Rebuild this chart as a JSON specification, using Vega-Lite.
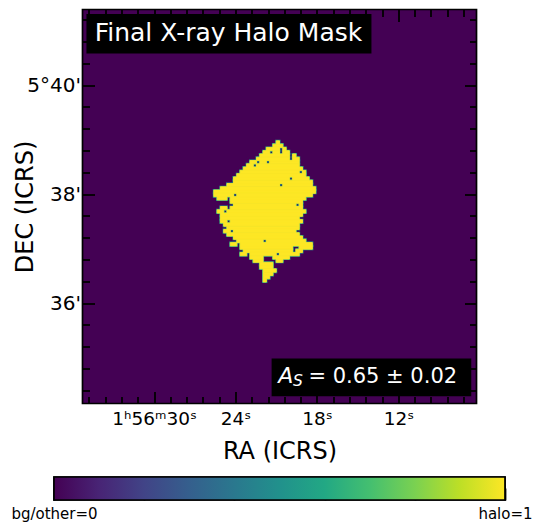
{
  "$schema": "https://vega.github.io/schema/vega-lite/v6.json",
  "background": "white",
  "padding": {"left": 10, "top": 7.5, "right": 0, "bottom": 0},
  "bounds": "flush",
  "center": true,
  "spacing": 73.5,
  "config": {
    "font": "DejaVu Sans",
    "view": {"stroke": "black", "strokeWidth": 1.7},
    "axis": {"domain": false, "grid": false, "labelFlush": false, "labelOverlap": false, "tickColor": "black", "tickWidth": 1.8, "labelColor": "black", "titleColor": "black", "labelFont": "DejaVu Sans", "titleFont": "DejaVu Sans", "titleFontWeight": "normal"}
  },
  "datasets": {
    "mask": [
      {"r0": 40, "r1": 41, "c1": 59, "c2": 60},
      {"r0": 41, "r1": 42, "c1": 58, "c2": 61},
      {"r0": 42, "r1": 43, "c1": 56, "c2": 60},
      {"r0": 42, "r1": 43, "c1": 61, "c2": 62},
      {"r0": 43, "r1": 44, "c1": 55, "c2": 57},
      {"r0": 43, "r1": 44, "c1": 58, "c2": 60},
      {"r0": 43, "r1": 44, "c1": 61, "c2": 63},
      {"r0": 44, "r1": 45, "c1": 54, "c2": 63},
      {"r0": 44, "r1": 45, "c1": 64, "c2": 65},
      {"r0": 45, "r1": 46, "c1": 53, "c2": 63},
      {"r0": 45, "r1": 46, "c1": 64, "c2": 66},
      {"r0": 46, "r1": 47, "c1": 51, "c2": 53},
      {"r0": 46, "r1": 47, "c1": 54, "c2": 56},
      {"r0": 46, "r1": 47, "c1": 57, "c2": 66},
      {"r0": 47, "r1": 48, "c1": 50, "c2": 52},
      {"r0": 47, "r1": 48, "c1": 53, "c2": 66},
      {"r0": 48, "r1": 49, "c1": 49, "c2": 67},
      {"r0": 49, "r1": 50, "c1": 48, "c2": 66},
      {"r0": 49, "r1": 50, "c1": 67, "c2": 68},
      {"r0": 50, "r1": 51, "c1": 47, "c2": 68},
      {"r0": 51, "r1": 52, "c1": 46, "c2": 63},
      {"r0": 51, "r1": 52, "c1": 64, "c2": 69},
      {"r0": 52, "r1": 53, "c1": 46, "c2": 70},
      {"r0": 53, "r1": 54, "c1": 44, "c2": 60},
      {"r0": 53, "r1": 54, "c1": 61, "c2": 70},
      {"r0": 54, "r1": 55, "c1": 42, "c2": 71},
      {"r0": 55, "r1": 56, "c1": 40, "c2": 71},
      {"r0": 56, "r1": 57, "c1": 40, "c2": 46},
      {"r0": 56, "r1": 57, "c1": 47, "c2": 70},
      {"r0": 57, "r1": 58, "c1": 41, "c2": 44},
      {"r0": 57, "r1": 58, "c1": 45, "c2": 68},
      {"r0": 58, "r1": 59, "c1": 45, "c2": 67},
      {"r0": 59, "r1": 60, "c1": 46, "c2": 65},
      {"r0": 59, "r1": 60, "c1": 66, "c2": 67},
      {"r0": 60, "r1": 61, "c1": 42, "c2": 44},
      {"r0": 60, "r1": 61, "c1": 45, "c2": 67},
      {"r0": 61, "r1": 62, "c1": 41, "c2": 43},
      {"r0": 61, "r1": 62, "c1": 44, "c2": 68},
      {"r0": 62, "r1": 63, "c1": 42, "c2": 67},
      {"r0": 63, "r1": 64, "c1": 42, "c2": 66},
      {"r0": 64, "r1": 65, "c1": 42, "c2": 44},
      {"r0": 64, "r1": 65, "c1": 45, "c2": 67},
      {"r0": 65, "r1": 66, "c1": 43, "c2": 66},
      {"r0": 66, "r1": 67, "c1": 44, "c2": 66},
      {"r0": 67, "r1": 68, "c1": 43, "c2": 45},
      {"r0": 67, "r1": 68, "c1": 46, "c2": 65},
      {"r0": 68, "r1": 69, "c1": 44, "c2": 66},
      {"r0": 69, "r1": 70, "c1": 46, "c2": 67},
      {"r0": 70, "r1": 71, "c1": 47, "c2": 55},
      {"r0": 70, "r1": 71, "c1": 56, "c2": 68},
      {"r0": 71, "r1": 72, "c1": 45, "c2": 47},
      {"r0": 71, "r1": 72, "c1": 48, "c2": 70},
      {"r0": 72, "r1": 73, "c1": 48, "c2": 64},
      {"r0": 72, "r1": 73, "c1": 66, "c2": 70},
      {"r0": 73, "r1": 74, "c1": 49, "c2": 64},
      {"r0": 73, "r1": 74, "c1": 65, "c2": 67},
      {"r0": 74, "r1": 75, "c1": 48, "c2": 50},
      {"r0": 74, "r1": 75, "c1": 51, "c2": 59},
      {"r0": 74, "r1": 75, "c1": 60, "c2": 66},
      {"r0": 75, "r1": 76, "c1": 51, "c2": 55},
      {"r0": 75, "r1": 76, "c1": 58, "c2": 63},
      {"r0": 76, "r1": 77, "c1": 52, "c2": 55},
      {"r0": 76, "r1": 77, "c1": 59, "c2": 61},
      {"r0": 77, "r1": 78, "c1": 54, "c2": 58},
      {"r0": 78, "r1": 79, "c1": 54, "c2": 58},
      {"r0": 79, "r1": 80, "c1": 55, "c2": 59},
      {"r0": 80, "r1": 81, "c1": 55, "c2": 58},
      {"r0": 81, "r1": 82, "c1": 55, "c2": 57},
      {"r0": 82, "r1": 83, "c1": 55, "c2": 56}
    ],
    "colorbar": [{"lo": 0, "hi": 1}]
  },
  "vconcat": [
    {
      "width": 394,
      "height": 394,
      "view": {"fill": "#440154", "stroke": "black", "strokeWidth": 1.7},
      "resolve": {"axis": {"x": "independent", "y": "independent"}},
      "layer": [
        {
          "data": {"name": "mask"},
          "mark": {"type": "rect", "fill": "#25a186", "stroke": "#25a186", "strokeWidth": 2},
          "encoding": {
            "x": {"field": "c1", "type": "quantitative", "scale": {"domain": [0, 120], "nice": false, "zero": false},
              "axis": {"orient": "bottom", "values": [21.8, 46.6, 71.4, 96.2], "ticks": false, "labelFontSize": 18.5, "labelPadding": 5.5,
                "labelExpr": "datum.value == 21.8 ? '1ʰ56ᵐ30ˢ' : datum.value == 46.6 ? '24ˢ' : datum.value == 71.4 ? '18ˢ' : '12ˢ'",
                "title": "RA (ICRS)", "titleFontSize": 24, "titleBaseline": "alphabetic", "titleY": 54.7}},
            "x2": {"field": "c2"},
            "y": {"field": "r0", "type": "quantitative", "scale": {"domain": [0, 120], "nice": false, "zero": false, "reverse": true},
              "axis": {"orient": "left", "values": [23.0, 56.2, 89.4], "ticks": false, "labelFontSize": 20, "labelPadding": 2,
                "labelExpr": "datum.value == 23 ? \"5°40'\" : datum.value == 56.2 ? \"38'\" : \"36'\"",
                "title": "DEC (ICRS)", "titleFontSize": 24, "titleBaseline": "alphabetic", "titleX": -50.3}},
            "y2": {"field": "r1"}
          }
        },
        {
          "data": {"name": "mask"},
          "mark": {"type": "rect", "fill": "#fde725", "stroke": "#fde725", "strokeWidth": 0.9},
          "encoding": {
            "x": {"field": "c1", "type": "quantitative", "axis": null},
            "x2": {"field": "c2"},
            "y": {"field": "r0", "type": "quantitative", "axis": null},
            "y2": {"field": "r1"}
          }
        },
        {
          "data": {"values": [{}]},
          "mark": {"type": "rect", "fill": "black"},
          "encoding": {
            "x": {"datum": 1.2, "type": "quantitative",
              "axis": {"orient": "bottom", "labels": false, "title": null,
                "values": [1.96, 6.92, 11.88, 16.84, 21.8, 26.76, 31.72, 36.68, 41.64, 46.6, 51.56, 56.52, 61.48, 66.44, 71.4, 76.36, 81.32, 86.28, 91.24, 96.2, 101.16, 106.12, 111.08, 116.04],
                "tickSize": {"condition": {"test": "indexof([21.8, 46.6, 71.4, 96.2], datum.value) >= 0", "value": -12}, "value": -7}}},
            "x2": {"datum": 88.0},
            "y": {"datum": 1.4, "type": "quantitative",
              "axis": {"orient": "left", "labels": false, "title": null,
                "values": [3.08, 9.72, 16.36, 23.0, 29.64, 36.28, 42.92, 49.56, 56.2, 62.84, 69.48, 76.12, 82.76, 89.4, 96.04, 102.68, 109.32, 115.96],
                "tickSize": {"condition": {"test": "indexof([23.0, 56.2, 89.4], datum.value) >= 0", "value": -12}, "value": -7}}},
            "y2": {"datum": 13.4}
          }
        },
        {
          "data": {"values": [{}]},
          "mark": {"type": "rect", "fill": "black"},
          "encoding": {
            "x": {"datum": 57.6, "type": "quantitative",
              "axis": {"orient": "top", "labels": false, "title": null,
                "values": [1.96, 6.92, 11.88, 16.84, 21.8, 26.76, 31.72, 36.68, 41.64, 46.6, 51.56, 56.52, 61.48, 66.44, 71.4, 76.36, 81.32, 86.28, 91.24, 96.2, 101.16, 106.12, 111.08, 116.04],
                "tickSize": {"condition": {"test": "indexof([21.8, 46.6, 71.4, 96.2], datum.value) >= 0", "value": -12}, "value": -7}}},
            "x2": {"datum": 118.4},
            "y": {"datum": 106.3, "type": "quantitative",
              "axis": {"orient": "right", "labels": false, "title": null,
                "values": [3.08, 9.72, 16.36, 23.0, 29.64, 36.28, 42.92, 49.56, 56.2, 62.84, 69.48, 76.12, 82.76, 89.4, 96.04, 102.68, 109.32, 115.96],
                "tickSize": {"condition": {"test": "indexof([23.0, 56.2, 89.4], datum.value) >= 0", "value": -12}, "value": -7}}},
            "y2": {"datum": 117.8}
          }
        },
        {
          "data": {"values": [{"label": "Final X-ray Halo Mask"}]},
          "mark": {"type": "text", "color": "white", "fontSize": 25, "font": "DejaVu Sans", "align": "center", "baseline": "alphabetic"},
          "encoding": {
            "text": {"field": "label"},
            "x": {"datum": 44.45, "type": "quantitative", "axis": null},
            "y": {"datum": 9.53, "type": "quantitative", "axis": null}
          }
        },
        {
          "data": {"values": [{"label": "A"}]},
          "mark": {"type": "text", "color": "white", "fontSize": 22, "fontStyle": "italic", "font": "DejaVu Sans", "align": "left", "baseline": "alphabetic"},
          "encoding": {
            "text": {"field": "label"},
            "x": {"datum": 59.6, "type": "quantitative", "axis": null},
            "y": {"datum": 113.8, "type": "quantitative", "axis": null}
          }
        },
        {
          "data": {"values": [{"label": "S"}]},
          "mark": {"type": "text", "color": "white", "fontSize": 15.5, "fontStyle": "italic", "font": "DejaVu Sans", "align": "left", "baseline": "alphabetic"},
          "encoding": {
            "text": {"field": "label"},
            "x": {"datum": 64.1, "type": "quantitative", "axis": null},
            "y": {"datum": 114.8, "type": "quantitative", "axis": null}
          }
        },
        {
          "data": {"values": [{"label": "= 0.65 ± 0.02"}]},
          "mark": {"type": "text", "color": "white", "fontSize": 21, "font": "DejaVu Sans", "align": "left", "baseline": "alphabetic"},
          "encoding": {
            "text": {"field": "label"},
            "x": {"datum": 68.8, "type": "quantitative", "axis": null},
            "y": {"datum": 113.8, "type": "quantitative", "axis": null}
          }
        }
      ]
    },
    {
      "width": 451,
      "height": 23,
      "data": {"name": "colorbar"},
      "mark": {"type": "rect", "stroke": "black", "strokeWidth": 1.7,
        "fill": {"gradient": "linear", "x1": 0, "x2": 1, "y1": 0, "y2": 0,
          "stops": [
            {"offset": 0, "color": "#440154"},
            {"offset": 0.1, "color": "#482475"},
            {"offset": 0.2, "color": "#414487"},
            {"offset": 0.3, "color": "#355f8d"},
            {"offset": 0.4, "color": "#2a788e"},
            {"offset": 0.5, "color": "#21918c"},
            {"offset": 0.6, "color": "#22a884"},
            {"offset": 0.7, "color": "#44bf70"},
            {"offset": 0.8, "color": "#7ad151"},
            {"offset": 0.9, "color": "#bddf26"},
            {"offset": 1, "color": "#fde725"}
          ]}},
      "encoding": {
        "x": {"field": "lo", "type": "quantitative", "scale": {"domain": [0, 1], "nice": false, "zero": false},
          "axis": {"orient": "bottom", "values": [0, 0.2, 0.4, 0.6, 0.8, 1], "labelFontSize": 15, "labelPadding": 18, "title": null,
            "labelExpr": "datum.value == 0 ? 'bg/other=0' : datum.value == 1 ? 'halo=1' : ''",
            "tickSize": {"condition": {"test": "datum.value == 0 || datum.value == 1", "value": -12}, "value": -7}}},
        "x2": {"field": "hi"}
      }
    }
  ]
}
